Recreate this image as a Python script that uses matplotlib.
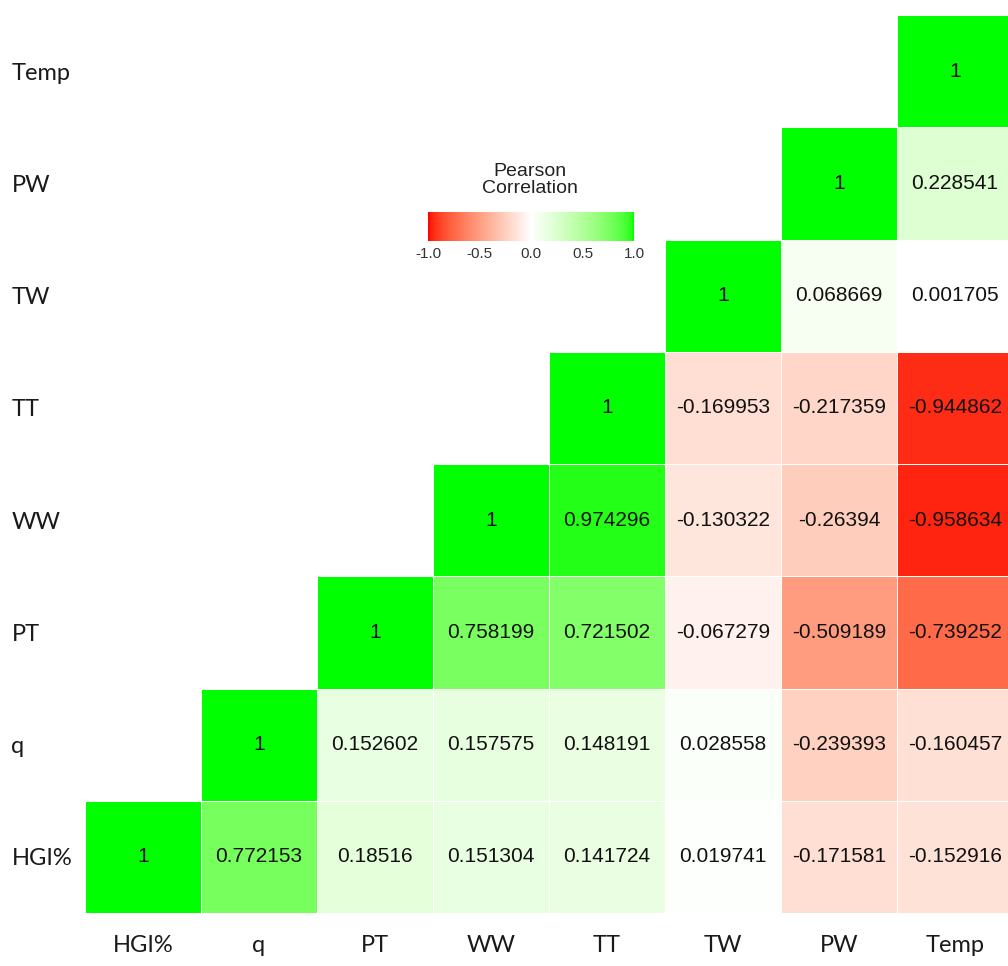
import matplotlib
matplotlib.use('Agg')
import matplotlib.pyplot as plt
import numpy as np
from matplotlib.colors import ListedColormap

# 变量名（从左到右 / 从下到上）
labels = ['HGI%', 'q', 'PT', 'WW', 'TT', 'TW', 'PW', 'Temp']

# 相关系数（上三角，按行：HGI%, q, PT, WW, TT, TW, PW, Temp）
row_hgi = [1, 0.772153, 0.18516, 0.151304, 0.141724, 0.019741, -0.171581, -0.152916]
row_q = [1, 0.152602, 0.157575, 0.148191, 0.028558, -0.239393, -0.160457]
row_pt = [1, 0.758199, 0.721502, -0.067279, -0.509189, -0.739252]
row_ww = [1, 0.974296, -0.130322, -0.26394, -0.958634]
row_tt = [1, -0.169953, -0.217359, -0.944862]
row_tw = [1, 0.068669, 0.001705]
row_pw = [1, 0.228541]
row_temp = [1]
rows = [row_hgi, row_q, row_pt, row_ww, row_tt, row_tw, row_pw, row_temp]

n = len(labels)
corr = np.full((n, n), np.nan)
for i, r in enumerate(rows):
    corr[i, i:] = r


# Lab 空间插值的红-白-绿色带（类似 ggplot 的 gradient2）
def srgb_to_lab(c):
    c = np.asarray(c, float)
    lin = np.where(c <= 0.04045, c / 12.92, ((c + 0.055) / 1.055) ** 2.4)
    M = np.array([[0.4124, 0.3576, 0.1805],
                  [0.2126, 0.7152, 0.0722],
                  [0.0193, 0.1192, 0.9505]])
    xyz = M @ lin / np.array([0.95047, 1.0, 1.08883])
    f = np.where(xyz > 0.008856, np.cbrt(xyz), 7.787 * xyz + 16 / 116)
    return np.array([116 * f[1] - 16, 500 * (f[0] - f[1]), 200 * (f[1] - f[2])])


def lab_to_srgb(lab):
    L, a, b = lab
    fy = (L + 16) / 116
    fx = fy + a / 500
    fz = fy - b / 200
    f = np.array([fx, fy, fz])
    xyz = np.where(f ** 3 > 0.008856, f ** 3, (f - 16 / 116) / 7.787)
    xyz = xyz * np.array([0.95047, 1.0, 1.08883])
    Minv = np.array([[3.2406, -1.5372, -0.4986],
                     [-0.9689, 1.8758, 0.0415],
                     [0.0557, -0.2040, 1.0570]])
    lin = Minv @ xyz
    lin = np.clip(lin, 0, 1)
    c = np.where(lin <= 0.0031308, 12.92 * lin, 1.055 * lin ** (1 / 2.4) - 0.055)
    return np.clip(c, 0, 1)


red = srgb_to_lab([1, 0, 0])
white = srgb_to_lab([1, 1, 1])
green = srgb_to_lab([0, 1, 0])
cols = []
for t in np.linspace(-1, 1, 256):
    if t < 0:
        lab = white + (red - white) * (-t)
    else:
        lab = white + (green - white) * t
    cols.append(lab_to_srgb(lab))
cmap = ListedColormap(cols)

plt.rcParams['font.family'] = ['Liberation Sans', 'DejaVu Sans']

fig = plt.figure(figsize=(10.08, 9.66), dpi=100)
ax = fig.add_axes([85 / 1008, 53 / 966, 928 / 1008, 898 / 966])

mesh = ax.pcolormesh(np.ma.masked_invalid(corr), cmap=cmap, vmin=-1, vmax=1,
                     edgecolors='white', linewidth=0.6)

# 单元格数值
for i in range(n):
    for j in range(i, n):
        v = corr[i, j]
        txt = '1' if v == 1 else ('%g' % v)
        ax.text(j + 0.5, i + 0.5, txt, ha='center', va='center', fontsize=15,
                color='#111111')

ax.set_xlim(0, n)
ax.set_ylim(0, n)
for s in ax.spines.values():
    s.set_visible(False)

ax.set_xticks(np.arange(n) + 0.5)
ax.set_xticklabels(labels, fontsize=17, family=['Lato', 'DejaVu Sans'], color='#1a1a1a')
ax.set_yticks(np.arange(n) + 0.5)
ax.set_yticklabels(labels, fontsize=17, family=['Lato', 'DejaVu Sans'], color='#1a1a1a',
                   ha='left')
ax.tick_params(axis='x', length=0, pad=16)
ax.tick_params(axis='y', length=0, pad=53)

# 图例（颜色条）
cax = fig.add_axes([428 / 1008, (966 - 241) / 966, 206 / 1008, 29 / 966])
cb = fig.colorbar(mesh, cax=cax, orientation='horizontal')
cb.outline.set_visible(False)
cb.set_ticks([-1.0, -0.5, 0.0, 0.5, 1.0])
cb.set_ticklabels(['-1.0', '-0.5', '0.0', '0.5', '1.0'])
cax.tick_params(length=0, labelsize=11, pad=4, colors='#333333')
fig.text(530 / 1008, 1 - 180 / 966, 'Pearson\nCorrelation', ha='center', va='center',
         fontsize=14, color='#222222', linespacing=1.0)

plt.savefig('out.png', dpi=100)
